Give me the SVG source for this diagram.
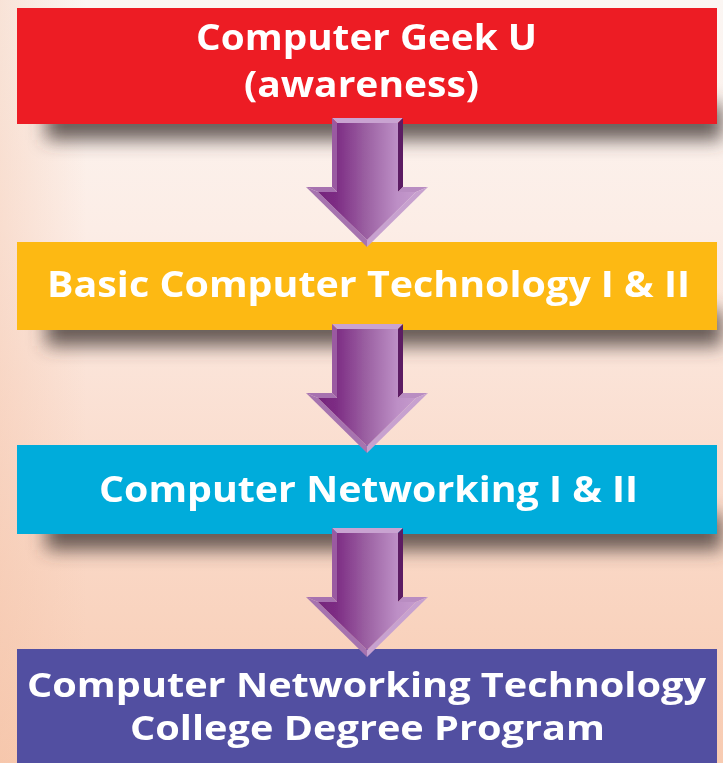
<svg xmlns="http://www.w3.org/2000/svg" width="723" height="763" viewBox="0 0 723 763">
  <defs>
    <linearGradient id="bg" x1="0" y1="0" x2="0" y2="1">
      <stop offset="0" stop-color="#fbf6f3"/>
      <stop offset="0.3" stop-color="#fcede6"/>
      <stop offset="0.62" stop-color="#fadccd"/>
      <stop offset="1" stop-color="#f8cbb1"/>
    </linearGradient>
    <linearGradient id="bgEdge" x1="0" y1="0" x2="1" y2="0">
      <stop offset="0" stop-color="#f3c0a4" stop-opacity="0.35"/>
      <stop offset="0.12" stop-color="#f3c0a4" stop-opacity="0"/>
      <stop offset="1" stop-color="#f3c0a4" stop-opacity="0"/>
    </linearGradient>
    <linearGradient id="arrowFace" gradientUnits="userSpaceOnUse" x1="306" y1="0" x2="428" y2="0">
      <stop offset="0" stop-color="#6f2076"/>
      <stop offset="0.25" stop-color="#7d2d84"/>
      <stop offset="0.5" stop-color="#9c62a3"/>
      <stop offset="0.75" stop-color="#bd8fc6"/>
      <stop offset="1" stop-color="#c9a2d1"/>
    </linearGradient>
    <filter id="shadowBlur" x="-10%" y="-100%" width="120%" height="300%">
      <feGaussianBlur stdDeviation="9"/>
    </filter>
    <filter id="soft" x="-5%" y="-5%" width="110%" height="110%">
      <feGaussianBlur stdDeviation="0.5"/>
    </filter>
    <!-- bevelled down arrow, drawn with its shaft top at y=0 -->
    <g id="downArrow" filter="url(#soft)">
      <polygon points="332,0 403,0 398,5 337,5" fill="#c9a3d1"/>
      <polygon points="403,0 403,69 398,74 398,5" fill="#5c1a64"/>
      <polygon points="403,69 428,69 416,74 398,74" fill="#b98dc2"/>
      <polygon points="428,69 367,129 367,122 416,74" fill="#c7a1cf"/>
      <polygon points="367,129 306,69 318,74 367,122" fill="#a673af"/>
      <polygon points="306,69 332,69 337,74 318,74" fill="#a772b0"/>
      <polygon points="332,0 337,5 337,74 332,69" fill="#9a5aa1"/>
      <polygon points="337,5 398,5 398,74 416,74 367,122 318,74 337,74" fill="url(#arrowFace)"/>
    </g>
    <style>
      .label { font-family: "Open Sans", "Liberation Sans", sans-serif; font-weight: 700; font-size: 36px; fill: #ffffff; text-anchor: middle; }
      .small { font-size: 34px; }
      .shadow { fill: #4a3d3a; opacity: 0.82; }
    </style>
  </defs>

  <!-- backdrop -->
  <rect x="0" y="0" width="723" height="763" fill="url(#bg)"/>
  <rect x="0" y="0" width="723" height="763" fill="url(#bgEdge)"/>

  <!-- soft drop shadows under the boxes -->
  <g id="shadows" filter="url(#shadowBlur)">
    <rect class="shadow" x="46" y="104" width="676" height="36"/>
    <rect class="shadow" x="46" y="310" width="676" height="36"/>
    <rect class="shadow" x="46" y="514" width="676" height="36"/>
  </g>

  <g id="node-geek-u">
    <rect x="17" y="8" width="700" height="116" fill="#ed1c24"/>
    <text class="label" x="366.5" y="50" textLength="341" lengthAdjust="spacingAndGlyphs">Computer Geek U</text>
    <text class="label" x="361.5" y="97" textLength="235" lengthAdjust="spacingAndGlyphs">(awareness)</text>
  </g>

  <g id="node-basic-tech">
    <rect x="17" y="242" width="700" height="88" fill="#fdb913"/>
    <text class="label" x="368.5" y="297" textLength="643" lengthAdjust="spacingAndGlyphs">Basic Computer Technology I &amp; II</text>
  </g>

  <g id="node-networking">
    <rect x="17" y="445" width="700" height="89" fill="#00acdb"/>
    <text class="label" x="368.5" y="502" textLength="539" lengthAdjust="spacingAndGlyphs">Computer Networking I &amp; II</text>
  </g>

  <g id="node-degree">
    <rect x="17" y="649" width="700" height="120" fill="#524fa1"/>
    <text class="label small" x="366.5" y="697" textLength="679" lengthAdjust="spacingAndGlyphs">Computer Networking Technology</text>
    <text class="label small" x="367.5" y="740" textLength="475" lengthAdjust="spacingAndGlyphs">College Degree Program</text>
  </g>

  <g id="connectors">
    <use href="#downArrow" x="0" y="118"/>
    <use href="#downArrow" x="0" y="324"/>
    <use href="#downArrow" x="0" y="528"/>
  </g>
</svg>
